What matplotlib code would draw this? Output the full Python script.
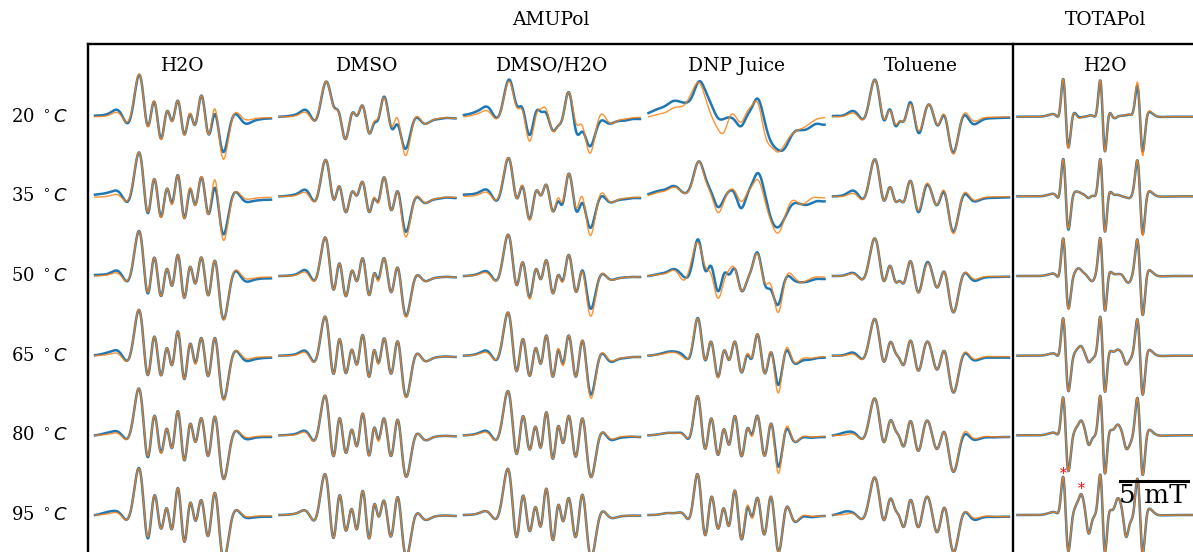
import numpy as np
import matplotlib
matplotlib.use('Agg')
import matplotlib.pyplot as plt
from matplotlib.lines import Line2D

plt.rcParams['font.family'] = ['DejaVu Serif']

temps = [20, 35, 50, 65, 80, 95]
solvents = ['H2O', 'DMSO', 'DMSO/H2O', 'DNP Juice', 'Toluene', 'H2O']

# field axis in points of 1/13.6 mT, heights = signal (peak ~ 35)
# extrema: *_POS shared in a column, one list per temperature
H2O_POS = [0, 12, 24, 34, 46.5, 53, 59.2, 65.7, 72.3, 77, 83.1, 89.3, 94.8, 99.9, 106.7, 113.6, 119.4, 126.4, 138, 150, 163, 176]
H2O_EXP = [
    [1, 2.5, 5.7, -5, 35, -9.3, 15, -21.7, 5.7, -4.3, 15.7, -17.7, 2.3, -8.3, 21, -17.7, 2.3, -31, 0, -6.7, -3, -1.7],
    [1.7, 3.5, 4.3, -3.3, 34.3, -16.7, 17.3, -20, 7.7, -6.7, 21, -21.7, 6.7, -8.3, 19, -17.7, 8.3, -32.3, 1, -5, -4, -3.3],
    [1, 2, 4.3, -3, 35, -17.3, 18.3, -19.7, 7, -9.7, 21, -21.7, 8.7, -7.3, 18.3, -19, 15, -35.7, 1, -5, -3, -2.3],
    [0.5, 3, 4, -2.7, 35, -19.3, 19, -19.3, 7.3, -9.3, 24, -23.3, 11.3, -6.7, 17.3, -20, 17.3, -35.3, 0.7, -4.7, -3, -2],
    [0, 2.5, 3, -0.7, 35, -21.7, 19.3, -16.7, 6, -12.7, 24, -25, 10.7, -6, 16.7, -20, 18.3, -35, 0, -3.3, -2, -1.7],
    [0, 3, 2.5, -1.7, 35, -23.3, 19.3, -13.3, 5.7, -14, 26.7, -26.7, 11, -5, 14.3, -20, 21.7, -35, 0, -2.3, -2, -1.7],
]
H2O_SIM = [
    [0, 1, 3.3, -3.3, 35, -10, 15.7, -22.7, 5.7, -5, 15.7, -18.3, 3.3, -8.3, 21, -17.7, 7.7, -36.7, 0, -2.7, -1.5, -1],
    [-0.7, 0, 1, -1.7, 34.3, -15.7, 17.7, -21, 7.7, -8.3, 21, -22.3, 8.3, -9, 19.7, -17.7, 16.3, -36, 0, -2.3, -1.5, -1],
    [0, 1, 2, -2.3, 35, -16.3, 18.3, -19.7, 7, -9.7, 21, -21.7, 8.7, -7.3, 18.3, -19, 15, -36.3, 1.7, -2.3, -1.5, -1],
    [0, 1, 1.3, -2.7, 35, -19.3, 19, -19.3, 7.3, -9.3, 24, -23.3, 11.3, -8, 17.3, -20, 17.3, -36, 0.7, -2.7, -1.5, -1.3],
    [0, 1, 1.3, -0.7, 35, -20.7, 19.3, -17.7, 6, -12.7, 24, -25, 10.7, -6, 16.7, -20, 18.3, -35, 0, -1.7, -1, -0.7],
    [0, 1, 1.3, -1.7, 35, -21.7, 19.3, -13.3, 5.7, -14, 26.7, -26.7, 11, -5, 14.3, -20, 21.7, -35, 0, -1.3, -1, -1],
]

DMSO_POS = [0, 14, 28.5, 36.8, 47.2, 55, 59.5, 65.6, 73.3, 77.5, 83.2, 89.8, 94.5, 98.3, 104.8, 112.6, 117.6, 124.7, 136.8, 142, 158, 176]
DMSO_EXP = [
    [0, 1.5, 5, -2.3, 35, 9, 4, -22.3, 4.3, 1, 11, -16.7, -6.7, -3.5, 20, -12.3, -7.7, -31, -1, -5, -2.5, -1.7],
    [0, 1.5, 4.3, -2.7, 35, -3, 10, -15, 5, 1, 14.3, -15.7, -2.3, -5.7, 19, -13.3, 5, -31.7, -1, -4.3, -2.5, -1.7],
    [0, 1, 3.7, -1.7, 35.3, -12.3, 12.3, -19, 5, -5, 17.7, -19, 2.3, -3, 17.7, -15, 8.3, -35.3, 0, -2.3, -1.5, -1.3],
    [0, 1, 2.3, -2.7, 35, -16, 15.7, -16, 4.7, -8.7, 20.7, -21, 5.3, -6.7, 17.3, -16, 14, -35.3, 1.3, -2, -1.5, -1.3],
    [0, 1, 2, -1.7, 35, -18.3, 16, -16, 4, -10.7, 21.7, -20, 7.3, -3.3, 16.7, -18.3, 15, -35, 0.7, -1.7, -1, -1],
    [0, 1, 2, -1.7, 35.7, -20, 18.3, -14, 3.3, -14, 24, -23.3, 10, 0, 14, -18.3, 17.3, -35, 0.7, -1.7, -1, -1],
]
DMSO_SIM = [
    [0, 0.5, 2.7, -1.7, 35, 8, 4, -22.3, 4.3, 1, 11, -16.7, -5, -2, 19, -10, -1, -36.7, 0, -4.3, -2, -1.7],
    [0, 0.5, 1.7, -2.3, 35, -3, 10, -15, 5, 1, 14.3, -15.7, -1, -6.7, 19, -13.3, 5, -36.7, -0.3, -3.7, -2, -1],
    [0, 0.5, 1.7, -1.7, 35.3, -12.3, 12.3, -19, 5, -5, 17.7, -19, 2.3, -5, 17.7, -15, 8.3, -36.3, 0, -2.3, -1.5, -1.3],
    [0, 0.3, 0.7, -2.7, 35, -16, 15.7, -16, 4.7, -8.7, 20.7, -21, 5.3, -7.7, 17.3, -16, 14, -36, 1.3, -2, -1.5, -1.3],
    [0, 0.3, 0.7, -1.7, 35, -18.3, 16, -16, 4, -10.7, 21.7, -20, 7.3, -5, 16.7, -18.3, 15, -35, 0.7, -1.7, -1, -1],
    [0, 1, 2, -1.7, 35.7, -20, 18.3, -14, 3.3, -14, 24, -23.3, 10, 0, 14, -18.3, 17.3, -35, 0.7, -1.7, -1, -1],
]

MIX_POS = [0, 12, 24.3, 33.7, 46.3, 53, 58.5, 65, 72.3, 77, 82, 89, 94.3, 98.3, 105, 112.5, 117.7, 125, 136.3, 144.3, 160, 176]
MIX_EXP = [
    [1.7, 5, 9.3, -0.7, 36, 11, 8.5, -18, 5.3, 5, 4, -14, -9, -2, 24.3, -16, -15, -29, -4.7, -6.7, -4, -2.3],
    [1.7, 3, 5.7, -3.3, 34.3, -2, 10, -22.3, 5.7, 1, 11.7, -15, -5, -8, 22.7, -15, -6.7, -30, -1, -5, -3, -1.7],
    [0, 1.5, 3.7, -3, 35, -9, 13.7, -20.7, 7, -3, 15.7, -17.3, 1, -5, 21, -15.7, 5, -29, 0, -2.3, -1.5, -1],
    [0, 1.5, 4, -2.7, 34.7, -15.3, 16.3, -19.3, 7.3, -7.7, 20, -21, 5.7, -7.7, 20, -20, 14, -32.7, 0, -4.3, -2.5, -1.3],
    [0, 1.5, 3.3, -2.7, 35, -18.3, 18.3, -13.3, 7.3, -11.7, 22.7, -23.3, 9.3, -6.7, 19.3, -20, 16, -35, 0, -2.7, -2, -1.7],
    [0, 1, 2.7, -1.7, 35.7, -21.7, 18.3, -15, 6.7, -10.7, 26, -25, 10, -5, 16.7, -20, 19.3, -35, 0, -1, -1, -0.7],
]
MIX_SIM = [
    [0, 2.5, 5.3, -1.3, 34, 9, 6, -24, 2, 8, 8, -14.7, -9, -2, 24.3, -7.5, -8, -35.7, 1.5, -5, -2.5, -0.7],
    [0, 1, 3.3, -2.3, 34.3, -2, 11, -23.3, 5.7, 1, 11.7, -15, -1.5, -6, 22.7, -11.7, 0, -36.7, 1.7, -4, -2, -1],
    [0, 1, 2.3, -3, 35, -9, 13.7, -22.3, 7, -3, 15.7, -17.3, 1, -6.3, 21, -15.7, 4.3, -36.3, 0, -2.3, -1.5, -1],
    [0, 1, 2.3, -2, 34.7, -15.3, 16.3, -19.3, 7.3, -7.7, 20, -21, 7.3, -9.3, 20, -20, 14.7, -36, 0, -3.3, -2, -1.3],
    [0, 1, 2, -2.7, 35, -18.3, 18.3, -13.3, 7.3, -11.7, 22.7, -23.3, 9.3, -6.7, 19.3, -20, 16, -35, 0, -1.7, -1, -1.7],
    [0, 1, 2.7, -1.7, 35.7, -21.7, 18.3, -15, 6.7, -10.7, 26, -25, 10, -5, 16.7, -20, 19.3, -35, 0, -1, -1, -0.7],
]

JUICE_POS = [0, 10, 20, 27, 37, 43.5, 50.5, 56.5, 62.5, 69.2, 75.8, 80.5, 86.5, 92.5, 99.2, 103.2, 109.2, 116.5, 122.5, 129.2, 136, 143, 153, 161, 176]
JUICE_EXP = [
    [3.7, 8, 13, 16, 14, 20, 35.3, 27, 13, -1, -2, -0.7, -4, -9.5, 2, 9, 18, -6, -25, -33, -32, -19, -13.5, -11, -8],
    [2.3, 5.5, 8.5, 10, 3.3, 15, 35, 20, 5, -10.5, -2, 5, 2, -11.7, 3, 12, 23.3, 2, -22, -31, -22, -9, -8, -7.7, -5],
    [0, 2, 5, 6.7, -1.7, 12, 35.3, 6, 10, -15, 2.7, 1.5, 7, -14, -3, 8, 23.3, -9, -14, -29, -6, -2, -6.3, -5, -3],
    [0, 1.5, 4, 4, -2, 8, 35, -4.3, 14, -21, 5.3, -4.3, 14, -16, 0.7, -2.7, 21.3, -17.7, 3.3, -28.7, 0, -3, -5.3, -4, -2],
    [0, 1, 2.5, 2.5, -1.5, 8, 35, -13.3, 16.7, -19.3, 6, -9.3, 19.3, -20, 7.3, 0.7, 19.3, -20, 11.7, -30, 0, -1.7, -2.7, -2.3, -1.7],
    [0, 0.5, 2, 2, -1.7, 8, 35.7, -20, 17.3, -13.3, 6, -10.7, 24.3, -23.3, 8, -1.7, 17, -18.3, 18.3, -35, 0, -1, -2.5, -2, -1],
]
JUICE_SIM = [
    [0, 2.5, 6, 9.5, 13, 25, 34, 20, 2, -12, -15, -2, 1, -5.5, 6, 11, 14, -18, -30, -35.3, -28, -18, -12, -7, -1],
    [1, 4, 7, 9, 3, 14, 35, 18, 2, -16, -4, 5.5, 5, -5, 4, 10, 16.7, -5, -25, -36.7, -22, -5, -8, -3.3, -1.7],
    [0, 1.5, 4, 5, -3, 18, 32, 10, 2, -22, -4, 6, 7, -14, -3, 8, 22, -7, -9, -36.3, -8, 1.7, -6.3, -3, -1],
    [0, 1, 3, 3, -3.3, 10, 34, -4, 14, -22, 5.3, -4.3, 14, -16, 2.3, -2, 21.3, -17.7, 4, -36.7, 1, -1.5, -3.3, -2.5, -1],
    [0, 1, 2.5, 2, -1.5, 9, 35, -13.3, 16.7, -19.3, 6, -9.3, 19.3, -20, 7.3, -1, 19.3, -20, 11.7, -36.7, 1, -0.5, -2, -1.5, -1],
    [0, 0.5, 2, 2, -1.7, 8, 35.7, -20, 17.3, -13.3, 6, -10.7, 24.3, -23.3, 10, -3, 17, -18.3, 18.3, -35, 0, -1, -1.5, -1, -1],
]

TOL_POS = [0, 12, 22, 32, 43, 51.3, 56.5, 62.5, 66.5, 71, 78, 84.7, 91.5, 98.5, 105.5, 111.3, 119.3, 129.3, 138.7, 150, 162, 176]
TOL_EXP = [
    [0.7, 2, 5, 0, 35.7, -3.7, 7.3, -9.3, -5, -4.3, 14, -15, 1.7, 8.3, -8.3, 1, -35, -1.7, -6.3, -3, -1.5, -1],
    [0, 2, 5, 0, 35.7, -4.3, 9, -5, -4, -5, 15, -15, 5.7, 4, -7, 4, -34.3, -1.7, -3.7, -2.5, -1.5, -1],
    [0, 1, 2.3, 0, 36, -5, 10, -5.7, -5, -6.7, 14.3, -15.7, 6.7, 5.7, -10, 4.3, -35, -1, -3.3, -2, -1, -0.7],
    [0, 1, 2.3, 0, 35, -6, 12.3, 3, -3, -8.7, 14.7, -14.3, 8, 4, -12, 4.7, -35.3, -2, -3.3, -2.5, -2, -2],
    [0, 3, 2, 0, 35, -6.7, 13.3, 5, -2, -10.7, 14, -15, 9.3, 3.3, -11.7, 3.3, -35, -3.3, -3.3, -2.5, -2, -1.7],
    [0, 3.5, 1, 0, 35.7, -5, 15, 5, -2, -11.7, 15, -11.7, 12.7, 5, -15, 7.3, -35, -1.7, -3.3, -2.5, -2, -1.7],
]
TOL_SIM = [
    [0, 1, 3, 0, 35.7, -2.7, 6.3, -7.7, -4.5, -4.3, 12.3, -12.7, 1.7, 9, -7.7, 2.3, -36.3, -0.3, -3, -1.5, -0.5, -0.3],
    [0, 0.5, 2.3, 0, 35.7, -4.3, 9, -5, -4, -5, 15, -13.7, 8, 4, -6, 5.7, -36, -0.3, -2.3, -1.5, -0.5, -0.3],
    [0, 0.5, 1.7, 0, 36, -5, 10, -5.7, -5, -6.7, 14.3, -15.7, 5, 5.7, -10, 4.3, -35, -1, -1.7, -1, -0.5, -0.7],
    [0, 0.3, 0.7, 0, 35, -6, 12.3, 3, -3, -8.7, 14.7, -14.3, 8, 4, -12, 4.7, -35.3, -1, -2, -1.5, -1, -1],
    [0, 0.5, 0.7, 0, 35, -6.7, 13.3, 5, -2, -10.7, 14, -15, 9.3, 3.3, -11.7, 3.3, -35, -0.7, -1.7, -1.5, -1.5, -1.7],
    [0, 0.7, 0.5, 0, 35.7, -5, 15, 5, -2, -11.7, 15, -11.7, 12.7, 5, -15, 7.3, -35, -1.7, -1.7, -1.5, -1.5, -1.7],
]

TOTA_POS = [0, 20, 37.5, 42.5, 46.2, 50.2, 55, 60.8, 64, 67.5, 71, 75, 79.2, 83.5, 86.8, 91, 96, 100.2, 104.5, 108.5, 112, 115.8, 120.8, 124.5, 129.2, 141, 176]
TOTA_EXP = [
    [0, 0, 2, 9, 36, -28, -1, 0, -0.5, 0, 1, 1, 6, 32, -31.3, -1.3, -1, 0, 1, 1.5, 2, 6, 26, -32, -2.3, 0, 0],
    [0, 0, 1.7, 7.3, 35.7, -30.3, -2.7, 4.5, 3, 1, -1.7, 0.5, 6.3, 33, -31.7, -1.7, 2, 1.5, 0, -1, -1.7, 7.3, 30.7, -34.3, -2.7, 0, 0],
    [0, 0, 1.7, 8.3, 36, -29, -5, 7.7, 5.5, 2.3, -2, -5, 8.3, 33.3, -31, -2.3, 2.3, 2, 1, -5, -6, 6.7, 31, -35.7, -2.3, 0, 0],
    [0, 0, 1.7, 9.3, 35.3, -32.3, -5.7, 8, 9.3, 2, -6.3, -3, 7.7, 34.3, -32.3, -2.3, 4, 6, 2, -8.5, -5, 6, 31, -35.7, -2.3, 0, 0],
    [0, 0, 2.3, 10.7, 35.7, -32.7, -4.3, 11, 14.7, 5, -9.3, -3, 7.3, 34.7, -34.3, -2.7, 6, 10.7, 3, -13, -10, 4, 32.3, -36, -2.7, 0, 0],
    [0, 0, 2.7, 11.7, 35.7, -33.3, -3, 15, 20.7, 5, -18.3, -5, 8, 35.7, -33.3, -2, 6, 16.7, 5, -21.7, -10, 2, 31.7, -35, -1.7, 0, 0],
]
TOTA_SIM = [
    [0, 0, 2, 9, 36, -29, -1, -1.3, -0.5, 0, 1, 1, 6, 32, -31.3, -1.3, -1, 0, 1, 2, 2, 6, 29.3, -35.7, -2.3, 0, 0],
    [0, 0, 1.7, 7.3, 35.7, -29.3, -2.7, 4.5, 3, 1, -1.7, 0.5, 6.3, 33, -31.7, -1.7, 2, 1.5, 0, -1, -1.7, 7.3, 30.7, -36, -2.7, 0, 0],
    [0, 0, 1.7, 8.3, 36, -30, -5, 7.7, 5.5, 2.3, -2, -5, 8.3, 33.3, -31, -2.3, 2.3, 2, 1, -5, -6, 6.7, 31, -35.7, -2.3, 0, 0],
    [0, 0, 1.7, 9.3, 35.3, -32.3, -5.7, 8, 9.3, 2, -6.3, -3, 7.7, 34.3, -32.3, -2.3, 4, 6, 2, -8.5, -5, 6, 31, -35.7, -2.3, 0, 0],
    [0, 0, 2.3, 10.7, 35.7, -32.7, -4.3, 11, 14.7, 5, -9.3, -3, 7.3, 34.7, -34.3, -2.7, 6, 10.7, 3, -13, -10, 4, 32.3, -36, -2.7, 0, 0],
    [0, 0, 2.7, 11.7, 35.7, -33.3, -3, 15, 20.7, 5, -18.3, -5, 8, 35.7, -33.3, -2, 6, 16.7, 5, -21.7, -10, 2, 31.7, -35, -1.7, 0, 0],
]

columns = [
    (H2O_POS, H2O_EXP, H2O_SIM),
    (DMSO_POS, DMSO_EXP, DMSO_SIM),
    (MIX_POS, MIX_EXP, MIX_SIM),
    (JUICE_POS, JUICE_EXP, JUICE_SIM),
    (TOL_POS, TOL_EXP, TOL_SIM),
    (TOTA_POS, TOTA_EXP, TOTA_SIM),
]
smooth = [0.375, 0.375, 0.375, 0.375, 0.375, 0.3]   # narrower lines for TOTAPol
starred = [4, 8]          # TOTAPol 95 C: marked lines (index into TOTA_POS)
SCALE_MT = 5
PTS_PER_MT = 13.6


def trace(pos, vals, x, k=0.375):
    # smooth line through the read extrema (gaussian rbf)
    pos = np.asarray(pos, float)
    vals = np.asarray(vals, float)
    gaps = np.diff(pos)
    s = np.minimum(k * (np.r_[gaps[0], gaps] + np.r_[gaps, gaps[-1]]), 6)
    G = np.exp(-(pos[:, None] - pos[None, :]) ** 2 / (2 * s[None, :] ** 2))
    a = np.linalg.solve(G, vals)
    return np.exp(-(x[:, None] - pos[None, :]) ** 2 / (2 * s[None, :] ** 2)) @ a


W, H = 1193, 552
fig = plt.figure(figsize=(W / 100, H / 100), dpi=100)
x = np.linspace(0, 176, 800)

for j, (pos, exp_rows, sim_rows) in enumerate(columns):
    left = 95 + 184.5 * j
    for i in range(6):
        base = 116.7 + 79.66 * i
        ax = fig.add_axes([left / W, 1 - (base + 40) / H, 176 / W, 80 / H])
        ax.set_xlim(0, 176)
        ax.set_ylim(-40, 40)
        ax.axis('off')
        ax.plot(x, trace(pos, exp_rows[i], x, smooth[j]), color='#1f77b4', lw=1.8, clip_on=False)
        ax.plot(x, trace(pos, sim_rows[i], x, smooth[j]), color='#ff7f0e', lw=1.0, alpha=0.85,
                clip_on=False)
        if j == 5 and i == 5:
            for k in starred:
                ax.text(pos[k] - 0.6, exp_rows[i][k] + 5, '*', color='red', fontsize=10,
                        ha='center', va='center')
            x1 = 170.5
            x0 = x1 - SCALE_MT * PTS_PER_MT
            ax.plot([x0, x1], [34, 34], color='black', lw=2.2, clip_on=False)
            ax.text((x0 + x1) / 2 - 1, 31.5, f'{SCALE_MT} mT', fontsize=19, ha='center', va='top')

for i, t in enumerate(temps):
    fig.text(39 / W, 1 - (116.7 + 79.66 * i) / H, f'{t} $^\\circ C$', fontsize=13,
             ha='center', va='center')
for j, name in enumerate(solvents):
    fig.text((95 + 184.5 * j + 88) / W, 1 - 66 / H, name, fontsize=13.5, ha='center', va='center')
fig.text(551 / W, 1 - 20 / H, 'AMUPol', fontsize=13.5, ha='center', va='center')
fig.text(1106 / W, 1 - 20 / H, 'TOTAPol', fontsize=13.5, ha='center', va='center')

for xs, ys in [([88, W], [44, 44]), ([88, 88], [44, H]), ([1013, 1013], [44, H])]:
    fig.add_artist(Line2D([v / W for v in xs], [1 - v / H for v in ys], color='black', lw=1.7,
                          transform=fig.transFigure))

fig.savefig('out.png', dpi=100)
